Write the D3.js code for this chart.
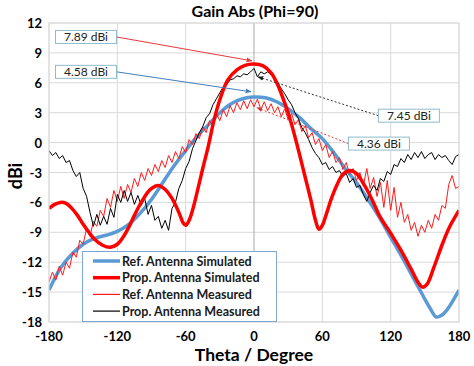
<!DOCTYPE html>
<html>
<head>
<meta charset="utf-8">
<script src="https://cdn.jsdelivr.net/npm/d3@7"></script>
<style>
  body { margin: 0; background: #fff; }
  svg { display: block; font-family: Lato, "Open Sans", sans-serif; }
</style>
</head>
<body>
<script>
// theta ticks and gain ticks
var xTicks = [-180, -120, -60, 0, 60, 120, 180];
var yTicks = [-18, -15, -12, -9, -6, -3, 0, 3, 6, 9, 12];

// simulated curves (theta, dBi)
var refSimTheta = [-180,-170,-160,-150,-140,-130,-120,-110,-100,-90,-80,-70,-60,-50,-40,-30,-20,-10,0,10,20,30,40,50,60,70,80,90,100,110,120,130,140,150,155,160,165,170,175,180];
var refSimGain  = [-14.8,-12.6,-11.2,-10.2,-9.6,-9.3,-8.9,-8.2,-7.1,-5.7,-4.0,-2.3,-0.8,0.6,1.8,3.0,3.9,4.4,4.58,4.5,4.1,3.4,2.5,1.4,0.4,-1.0,-2.6,-4.0,-5.7,-7.5,-9.5,-11.5,-13.6,-15.7,-16.7,-17.5,-17.3,-16.7,-15.8,-14.8];

var propSimTheta = [-180,-175,-170,-165,-160,-155,-150,-145,-140,-133,-126,-120,-115,-110,-105,-98,-91,-84,-78,-72,-66,-62,-60,-57,-54,-50,-45,-40,-35,-30,-23,-15,-8,0,8,15,20,25,30,35,40,45,50,54,57,60,64,68,73,78,84,90,97,104,110,120,128,138,144,148,152,158,166,172,180];
var propSimGain  = [-6.6,-6.2,-6.0,-6.1,-6.6,-7.3,-8.2,-9.0,-9.7,-10.3,-10.5,-10.2,-9.5,-8.5,-7.3,-5.8,-4.7,-4.3,-4.7,-5.6,-7.0,-8.1,-8.3,-7.8,-6.8,-5.0,-2.6,-0.3,2.3,4.3,6.3,7.3,7.75,7.89,7.7,7.0,6.0,4.6,3.0,1.0,-1.2,-3.5,-5.8,-7.8,-8.7,-8.3,-7.0,-5.6,-4.2,-3.2,-2.8,-3.1,-4.3,-5.8,-7.3,-9.1,-10.6,-12.7,-14.0,-14.5,-14.2,-12.5,-10.0,-8.4,-6.8];

// measured curves, one sample every 3 degrees from -180 to 180
var measTheta = d3.range(-180, 181, 3);
var refMeasGain = [-14.0,-13.0,-13.8,-12.4,-13.3,-12.0,-12.6,-11.0,-11.5,-9.8,-10.2,-8.6,-9.4,-7.9,-8.4,-6.8,-7.4,-5.6,-6.5,-4.8,-5.9,-4.4,-5.6,-4.2,-5.0,-3.6,-4.4,-3.0,-3.8,-2.6,-3.3,-2.2,-2.9,-1.8,-2.5,-1.3,-2.0,-0.9,-1.6,-0.4,-1.0,0.3,-0.2,0.9,0.4,1.6,1.0,2.2,1.7,2.9,2.2,3.3,2.6,3.7,3.0,4.0,3.3,4.2,3.4,4.3,3.6,4.36,3.3,4.1,3.2,3.9,3.0,3.6,2.6,3.4,2.3,2.9,1.8,2.3,1.1,1.7,0.5,1.0,-0.2,0.4,-0.8,-0.2,-1.5,-0.9,-2.0,-1.5,-2.7,-2.0,-3.2,-2.6,-3.8,-3.0,-4.3,-2.6,-4.6,-3.5,-5.4,-4.0,-6.5,-3.8,-6.8,-4.5,-7.5,-6.0,-8.0,-7.2,-8.8,-8.0,-9.4,-8.3,-9.0,-7.8,-8.6,-7.2,-7.8,-6.3,-6.6,-4.2,-3.3,-4.6,-4.4];
var propMeasGain = [-0.8,-1.3,-1.0,-1.6,-1.3,-2.0,-1.8,-2.8,-3.4,-3.0,-4.6,-5.4,-7.0,-8.4,-7.2,-8.3,-7.4,-8.2,-6.6,-7.5,-5.2,-6.0,-4.8,-5.9,-5.0,-6.2,-5.3,-6.3,-5.6,-7.2,-6.3,-7.8,-7.4,-8.6,-7.8,-8.8,-6.6,-6.0,-4.6,-3.8,-2.6,-1.9,-0.6,0.2,1.0,1.6,2.5,2.9,3.8,4.4,5.0,5.6,5.8,6.3,6.4,6.7,6.6,6.9,6.8,7.1,7.45,6.6,7.1,6.9,7.1,6.8,6.4,6.0,5.4,4.9,4.3,3.8,3.0,2.4,1.5,1.0,0.3,-0.5,-1.1,-1.5,-2.2,-2.0,-2.7,-2.4,-3.0,-2.8,-3.4,-3.1,-4.0,-3.6,-4.5,-4.3,-5.2,-5.9,-5.0,-4.3,-4.8,-3.6,-3.9,-2.9,-3.2,-2.2,-2.4,-1.6,-2.0,-1.2,-1.7,-1.0,-1.5,-0.9,-1.6,-1.2,-1.0,-1.7,-1.2,-1.5,-1.3,-1.8,-2.2,-1.4,-1.2];

var legendNames = ["Ref. Antenna Simulated", "Prop. Antenna Simulated", "Ref. Antenna Measured", "Prop. Antenna Measured"];

function init(){
  var w = 474, h = 366;
  var left = 49, right = 459, top = 23, bottom = 322;

  var svg = d3.select("body").append("svg")
              .attr("width", w)
              .attr("height", h);

  var x = d3.scaleLinear().domain([-180, 180]).range([left, right]);
  var y = d3.scaleLinear().domain([-18, 12]).range([bottom, top]);

  // grid
  svg.append("g").selectAll("line.h")
     .data(yTicks).enter().append("line")
     .attr("x1", left).attr("x2", right)
     .attr("y1", function(d){ return y(d); })
     .attr("y2", function(d){ return y(d); })
     .attr("stroke", "#d9d9d9").attr("stroke-width", 1);

  svg.append("g").selectAll("line.v")
     .data(xTicks).enter().append("line")
     .attr("y1", top).attr("y2", bottom)
     .attr("x1", function(d){ return x(d); })
     .attr("x2", function(d){ return x(d); })
     .attr("stroke", function(d){ return d === 0 ? "#a8a8a8" : "#d9d9d9"; })
     .attr("stroke-width", 1);

  // tick labels
  svg.append("g").selectAll("text")
     .data(yTicks).enter().append("text")
     .attr("x", 42)
     .attr("y", function(d){ return y(d) + 5; })
     .attr("text-anchor", "end")
     .attr("font-size", 13).attr("font-weight", "bold")
     .text(function(d){ return d; });

  svg.append("g").selectAll("text")
     .data(xTicks).enter().append("text")
     .attr("x", function(d){ return x(d); })
     .attr("y", 341)
     .attr("text-anchor", "middle")
     .attr("font-size", 13).attr("font-weight", "bold")
     .text(function(d){ return d; });

  // titles
  svg.append("text").attr("x", 255).attr("y", 17)
     .attr("text-anchor", "middle").attr("font-size", 16).attr("font-weight", "bold")
     .text("Gain Abs (Phi=90)");
  svg.append("text").attr("x", 254).attr("y", 361)
     .attr("text-anchor", "middle").attr("font-size", 17.5).attr("font-weight", "bold")
     .text("Theta / Degree");
  svg.append("text").attr("transform", "translate(22,176) rotate(-90)")
     .attr("text-anchor", "middle").attr("font-size", 18).attr("font-weight", "bold")
     .text("dBi");

  svg.append("clipPath").attr("id", "plot")
     .append("rect").attr("x", left).attr("y", top)
     .attr("width", right - left).attr("height", bottom - top);

  var smooth = d3.line()
     .x(function(d){ return x(d[0]); })
     .y(function(d){ return y(d[1]); })
     .curve(d3.curveCatmullRom);
  var raw = d3.line()
     .x(function(d){ return x(d[0]); })
     .y(function(d){ return y(d[1]); });

  var plot = svg.append("g").attr("clip-path", "url(#plot)");

  var series = [
    { pts: d3.zip(refSimTheta, refSimGain), color: "#5b9bd5", width: 3.5, gen: smooth },
    { pts: d3.zip(propSimTheta, propSimGain), color: "#ff0000", width: 3.5, gen: smooth },
    { pts: d3.zip(measTheta, refMeasGain), color: "#ff1a1a", width: 1, gen: raw },
    { pts: d3.zip(measTheta, propMeasGain), color: "#000000", width: 1, gen: raw }
  ];
  var order = [0, 2, 3, 1];
  order.forEach(function(i){
    var s = series[i];
    plot.append("path").attr("d", s.gen(s.pts))
        .attr("fill", "none").attr("stroke", s.color)
        .attr("stroke-width", s.width).attr("stroke-linejoin", "round");
  });

  // plot frame
  svg.append("rect").attr("x", left).attr("y", top)
     .attr("width", right - left).attr("height", bottom - top)
     .attr("fill", "none").attr("stroke", "#d9d9d9");

  // annotation arrows
  var defs = svg.append("defs");
  function marker(id, color){
    defs.append("marker").attr("id", id)
        .attr("viewBox", "0 0 10 10").attr("refX", 9).attr("refY", 5)
        .attr("markerWidth", 6).attr("markerHeight", 6).attr("orient", "auto")
        .append("path").attr("d", "M0,1L10,5L0,9Z").attr("fill", color);
  }
  marker("mRed", "#e8383d");
  marker("mBlue", "#3f7fc0");
  marker("mBlack", "#222");
  marker("mRed2", "#d9363a");

  var notes = [
    { label: "7.89 dBi", bx: -147.5, by: 10.6, side: "right", tx: -1.8, ty: 8.2, color: "#e8383d", dash: null, m: "mRed" },
    { label: "4.58 dBi", bx: -147.5, by: 7.1, side: "right", tx: -2.6, ty: 5.1, color: "#3f7fc0", dash: null, m: "mBlue" },
    { label: "7.45 dBi", bx: 136, by: 2.7, side: "left", tx: 3.5, ty: 6.6, color: "#333", dash: "2,2", m: "mBlack" },
    { label: "4.36 dBi", bx: 109.7, by: -0.1, side: "left", tx: 2.6, ty: 3.5, color: "#e8383d", dash: "2,2", m: "mRed2" }
  ];
  var bw = 61, bh = 13;
  notes.forEach(function(n){
    var cx = x(n.bx), cy = y(n.by);
    var sx = n.side === "right" ? cx + bw / 2 : cx - bw / 2;
    svg.append("line").attr("x1", sx).attr("y1", cy)
       .attr("x2", x(n.tx)).attr("y2", y(n.ty))
       .attr("stroke", n.color).attr("stroke-width", 1)
       .attr("stroke-dasharray", n.dash)
       .attr("marker-end", "url(#" + n.m + ")");
    svg.append("rect").attr("x", cx - bw / 2).attr("y", cy - bh / 2)
       .attr("width", bw).attr("height", bh)
       .attr("fill", "#fff").attr("stroke", "#8fbccb").attr("stroke-width", 1);
    svg.append("text").attr("x", cx).attr("y", cy + 4.5)
       .attr("text-anchor", "middle").attr("font-size", 12).attr("fill", "#222")
       .text(n.label);
  });

  // legend
  var lg = svg.append("g");
  lg.append("rect").attr("x", 82.5).attr("y", 251.5).attr("width", 194).attr("height", 70)
    .attr("fill", "#fff").attr("stroke", "#7fa6d6").attr("stroke-width", 1);
  var rows = lg.selectAll("g").data(legendNames).enter().append("g")
    .attr("transform", function(d, i){ return "translate(0," + (261 + i * 16.7) + ")"; });
  rows.append("line").attr("x1", 93).attr("x2", 120).attr("y1", 0).attr("y2", 0)
    .attr("stroke", function(d, i){ return series[i].color; })
    .attr("stroke-width", function(d, i){ return series[i].width === 1 ? 1.2 : 3.5; });
  rows.append("text").attr("x", 122).attr("y", 4.5)
    .attr("font-size", 12.5).attr("font-weight", "bold").attr("fill", "#1a1a1a")
    .text(function(d){ return d; });
}
window.onload = init;
</script>
</body>
</html>
